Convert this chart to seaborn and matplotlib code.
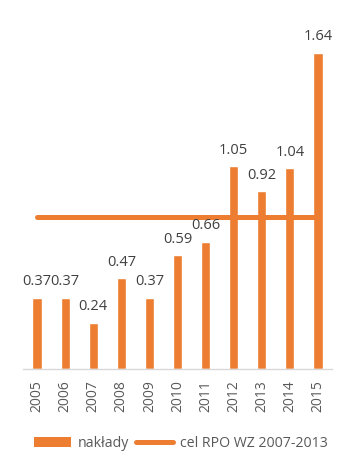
import numpy as np
import pandas as pd
from matplotlib import pyplot as plt
from matplotlib.patches import Patch
from matplotlib.lines import Line2D
import seaborn as sns

years = ["2005", "2006", "2007", "2008", "2009", "2010",
         "2011", "2012", "2013", "2014", "2015"]
naklady = [0.37, 0.37, 0.24, 0.47, 0.37, 0.59, 0.66, 1.05, 0.92, 1.04, 1.64]
cel_rpo = [0.79, 0.79, 0.79, 0.79, 0.79, 0.79, 0.79, 0.79, 0.79, 0.79, 0.79]

orange = "#ED7D31"
label_col = "#404040"
tick_col = "#595959"

df = pd.DataFrame({"rok": years, "naklady": naklady, "cel": cel_rpo})

sns.set_style("white")
plt.rcParams["font.family"] = ["Open Sans", "DejaVu Sans"]

fig = plt.figure(figsize=(3.55, 4.73), dpi=100)
ax = fig.add_axes([0.065, 0.22, 0.87, 0.734])

sns.barplot(data=df, x="rok", y="naklady", color=orange, saturation=1,
            width=0.33, ax=ax)
sns.lineplot(x=np.arange(len(years)), y=df["cel"], color=orange,
             linewidth=3.6, solid_capstyle="round", ax=ax)

# data labels
for i, v in enumerate(naklady):
    ax.annotate(f"{v:.2f}", (i, v), xytext=(0, 9), textcoords="offset points",
                ha="center", va="baseline", fontsize=10.5, color=label_col)

ax.set_xlim(-0.5, len(years) - 0.5)
ax.set_ylim(0, 1.8)
ax.set_xlabel("")
ax.set_ylabel("")
ax.set_yticks([])
ax.tick_params(axis="x", length=0, pad=8, labelsize=10, labelcolor=tick_col,
               labelrotation=90)
for s in ["top", "right", "left"]:
    ax.spines[s].set_visible(False)
ax.spines["bottom"].set_color("#D9D9D9")
ax.spines["bottom"].set_linewidth(1)

handles = [
    Patch(facecolor=orange, edgecolor="none", label="nakłady"),
    Line2D([0], [0], color=orange, linewidth=3.6, solid_capstyle="round",
           label="cel RPO WZ 2007-2013"),
]
fig.legend(handles=handles, loc="center", bbox_to_anchor=(0.51, 0.063),
           ncol=2, frameon=False, fontsize=10.2, labelcolor=tick_col,
           handlelength=2.6, handletextpad=0.5, columnspacing=0.5)

fig.savefig("out.png", dpi=100)
